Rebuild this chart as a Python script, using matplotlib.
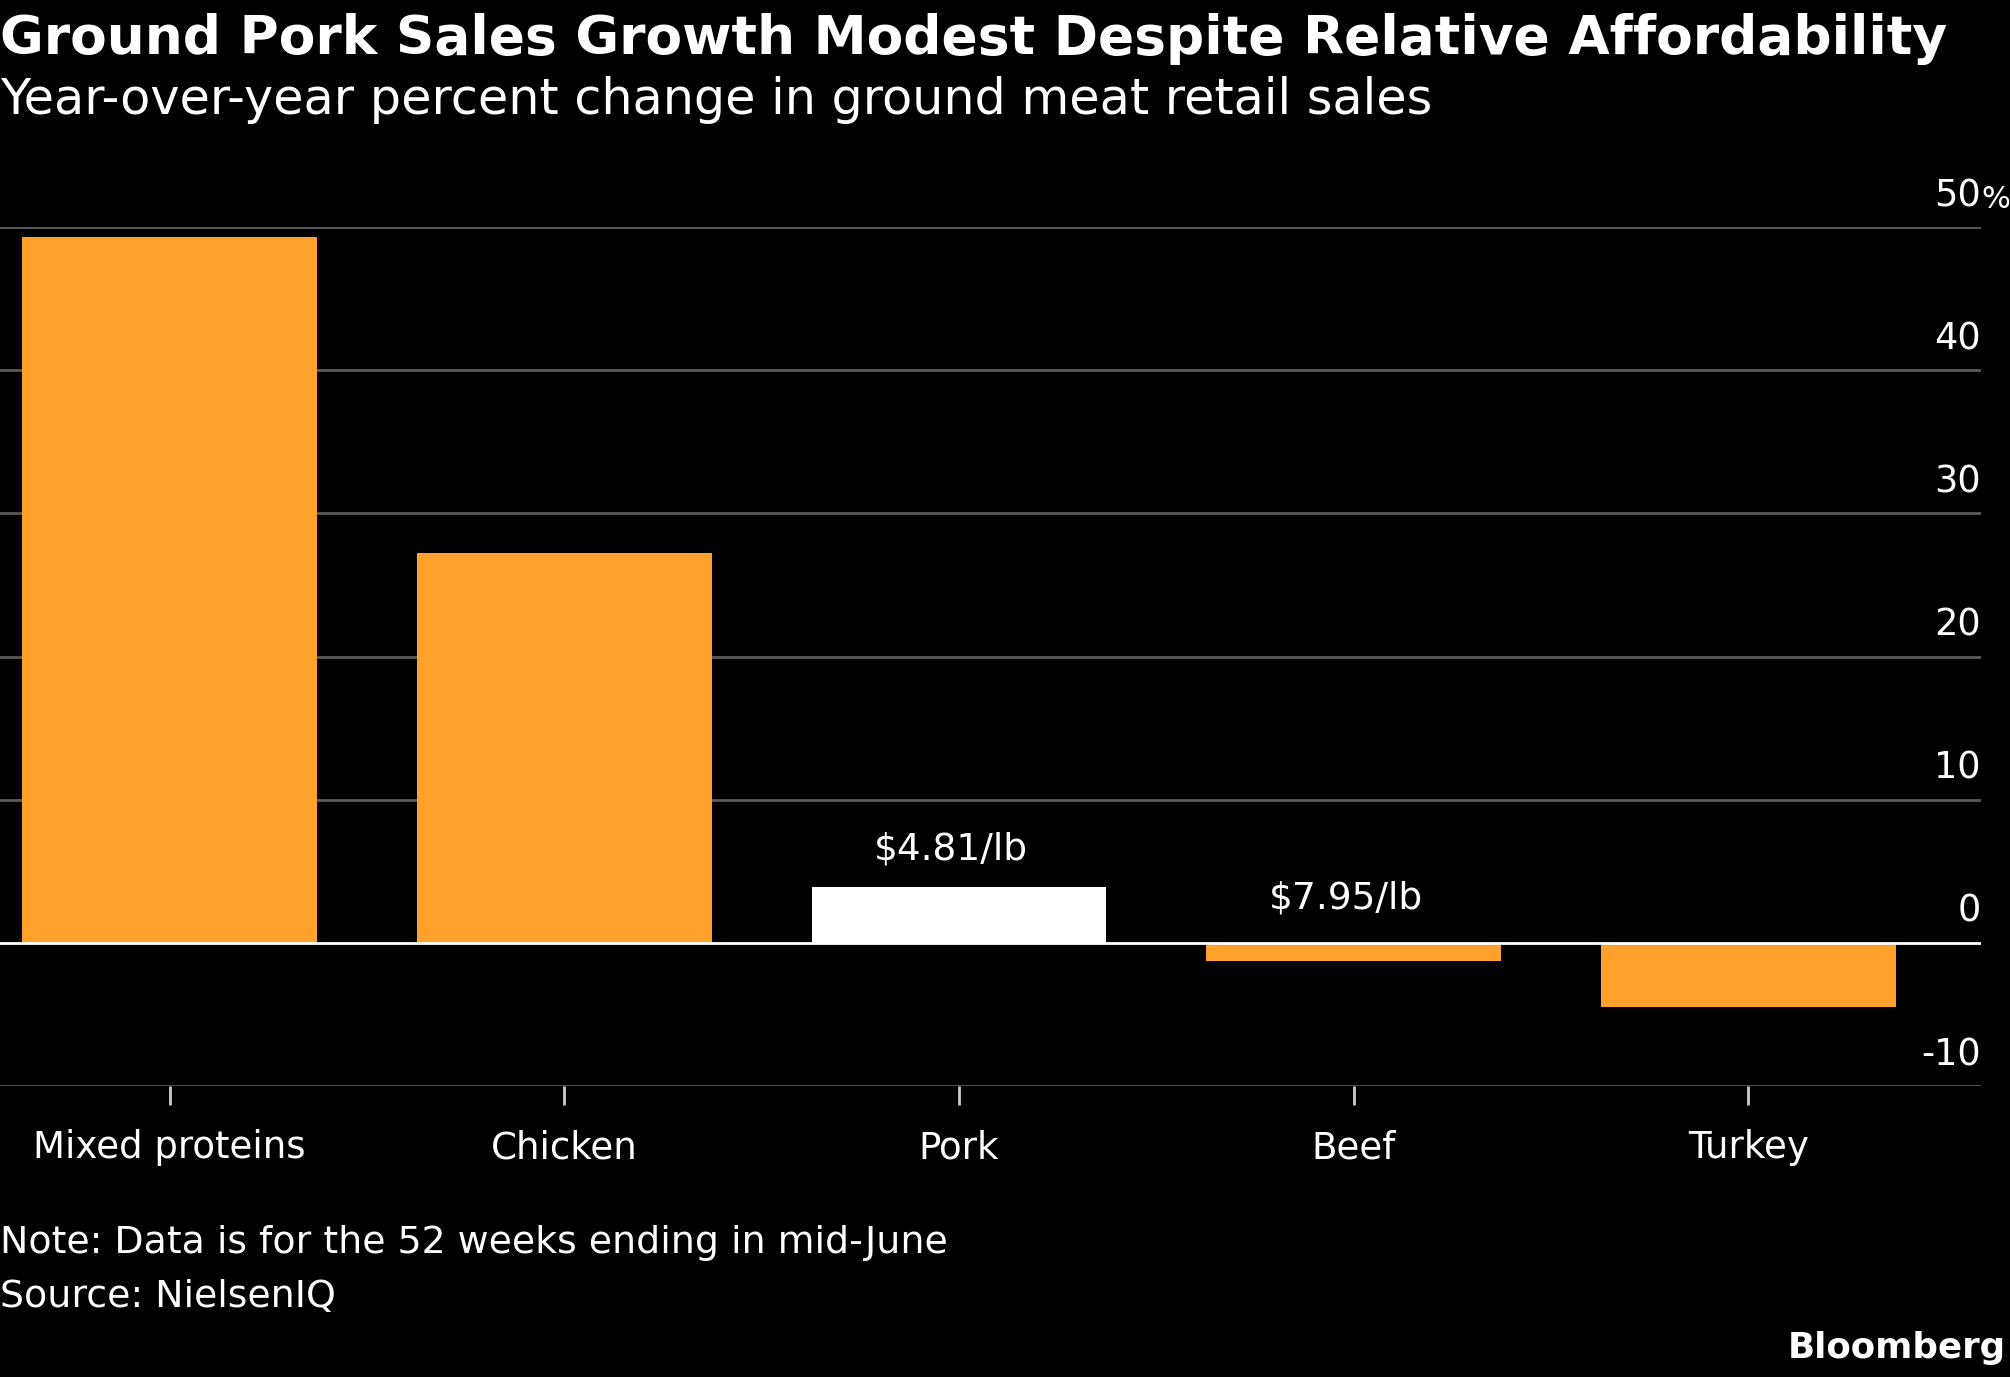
import matplotlib
matplotlib.use('Agg')
import matplotlib.pyplot as plt

categories = ['Mixed proteins', 'Chicken', 'Pork', 'Beef', 'Turkey']
values = [49.3, 27.2, 3.9, -1.25, -4.5]
price_labels = {'Pork': '$4.81/lb', 'Beef': '$7.95/lb'}
yticks = [-10, 0, 10, 20, 30, 40, 50]

ORANGE = '#ffa12b'
plt.rcParams['font.family'] = ['DejaVu Sans']

fig = plt.figure(figsize=(20.1, 13.77), dpi=100, facecolor='black')
ax = fig.add_axes([0, 0.2113, 0.9856, 0.6238], facecolor='black')

x = list(range(len(categories)))
colors = ['white' if c == 'Pork' else ORANGE for c in categories]
ax.bar(x, values, width=0.747, color=colors, zorder=2)

ax.set_xlim(-0.43, 4.59)
ax.set_ylim(-10, 50)

# gridlines + tick labels sitting above each line, right aligned
for t in yticks:
    if t == 0:
        ax.axhline(0, color='white', lw=2, zorder=3)
    else:
        ax.axhline(t, color='#5a5a5a', lw=2, zorder=1)
    ax.text(1.0, t + 0.9, str(t), transform=ax.get_yaxis_transform(),
            ha='right', va='bottom', color='white', fontsize=26.5)
ax.text(1.0, yticks[-1] + 0.9, '%', transform=ax.get_yaxis_transform(),
        ha='left', va='bottom', color='white', fontsize=22)

for i, c in enumerate(categories):
    if c in price_labels:
        off = 1.4 if values[i] > 0 else 1.85
        ax.text(i - 0.02, max(values[i], 0) + off, price_labels[c], ha='center',
                va='bottom', color='white', fontsize=27)

for s in ax.spines.values():
    s.set_visible(False)
ax.set_yticks([])
ax.set_xticks(x)
ax.set_xticklabels(categories, color='white', fontsize=26.7)
ax.tick_params(axis='x', length=14, width=2, color='#cccccc', pad=17)

fig.text(0.0, 0.961, 'Ground Pork Sales Growth Modest Despite Relative Affordability',
         color='white', fontsize=38.4, fontweight='bold', va='baseline')
fig.text(0.0, 0.917, 'Year-over-year percent change in ground meat retail sales',
         color='white', fontsize=35.5, va='baseline')
fig.text(0.0, 0.097, 'Note: Data is for the 52 weeks ending in mid-June',
         color='white', fontsize=27.3, va='center')
fig.text(0.0, 0.058, 'Source: NielsenIQ', color='white', fontsize=27.3, va='center')
fig.text(0.998, 0.021, 'Bloomberg', color='white', fontsize=25.7,
         fontweight='bold', ha='right', va='center')

fig.savefig('out.png', dpi=100, facecolor='black')
